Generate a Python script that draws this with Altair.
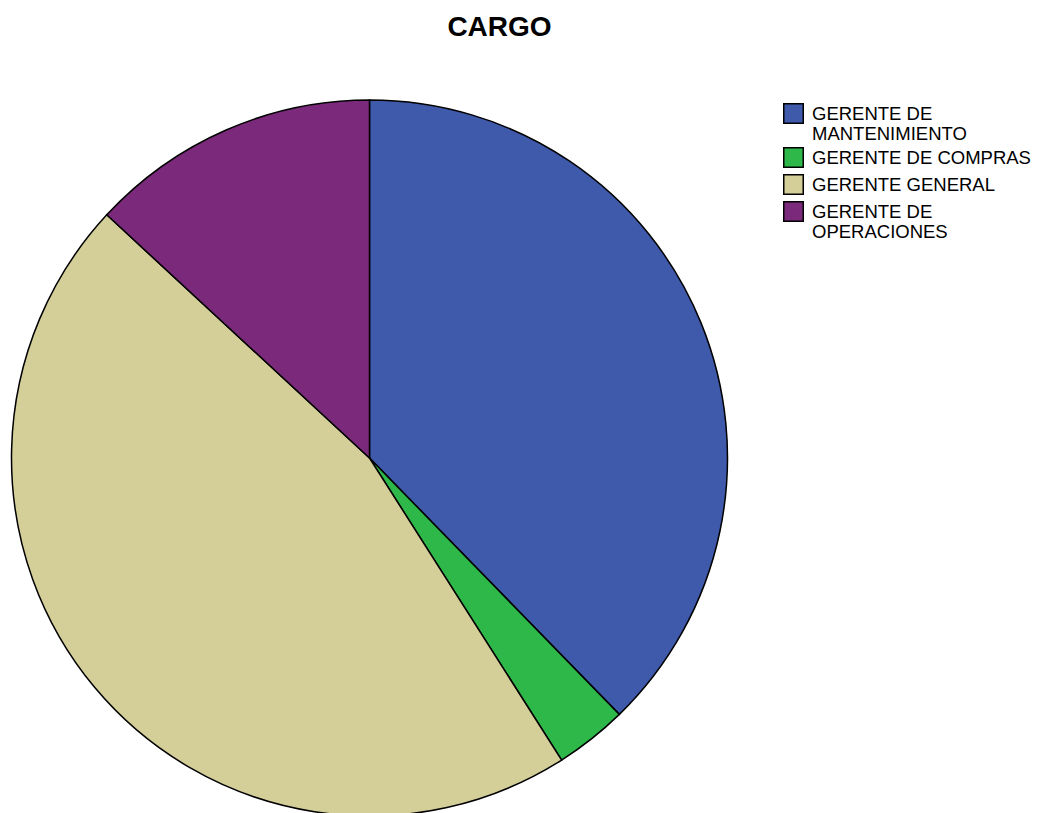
import altair as alt
import pandas as pd

categories = ["GERENTE DE MANTENIMIENTO", "GERENTE DE COMPRAS", "GERENTE GENERAL", "GERENTE DE OPERACIONES"]
label_lines = ["GERENTE DE|MANTENIMIENTO", "GERENTE DE COMPRAS", "GERENTE GENERAL", "GERENTE DE|OPERACIONES"]
counts = [23, 2, 28, 8]
colors = ["#3F59AB", "#2EB84A", "#D4CE99", "#7B2A7B"]

df = pd.DataFrame({"cargo": label_lines, "n": counts, "idx": list(range(len(counts)))})

chart = alt.Chart(df).mark_arc(
    stroke="black", strokeWidth=1.5, outerRadius=358
).encode(
    theta=alt.Theta("n:Q", stack=True),
    order=alt.Order("idx:O"),
    x=alt.value(361.5),
    y=alt.value(402),
    color=alt.Color(
        "cargo:N",
        sort=label_lines,
        scale=alt.Scale(domain=label_lines, range=colors),
        legend=alt.Legend(
            title=None,
            orient="none",
            legendX=775,
            legendY=47,
            padding=0,
            symbolType="square",
            symbolSize=380,
            symbolStrokeColor="black",
            symbolStrokeWidth=1.5,
            symbolOpacity=1,
            labelFont="Liberation Sans",
            labelFontSize=18.5,
            labelColor="black",
            labelOffset=8,
            labelLimit=400,
            labelExpr="split(datum.label, '|')",
            rowPadding=0,
        ),
    ),
).properties(
    width=1027,
    height=757,
    title=alt.TitleParams(
        "CARGO",
        font="Liberation Sans",
        fontSize=28,
        fontWeight="bold",
        color="black",
        anchor="middle",
        frame="group",
        baseline="alphabetic",
        offset=11,
        dx=-22,
        dy=19,
    ),
    autosize=alt.AutoSizeParams(type="none"),
    padding={"top": 48, "left": 0, "right": 0, "bottom": 0},
).configure_view(stroke=None)

chart.save("out.html", embed_options={"renderer": "svg", "actions": False})
